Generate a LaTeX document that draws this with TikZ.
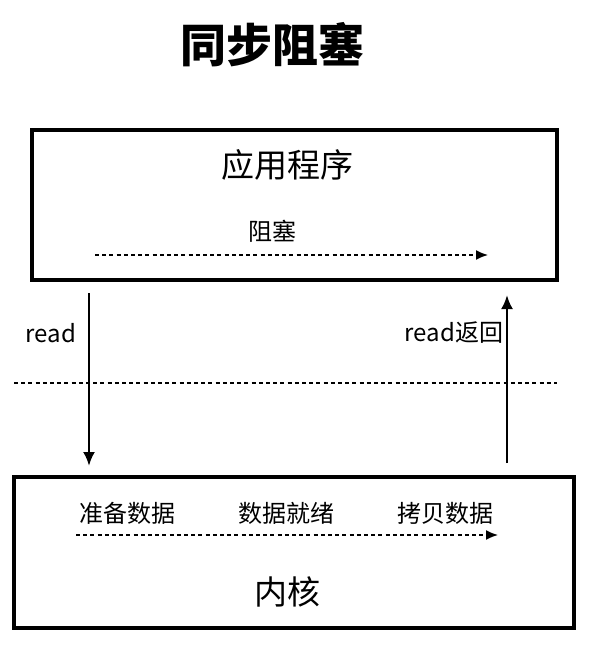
\documentclass[tikz,border=0pt]{standalone}
\usepackage{fontspec}
\setmainfont{Noto Sans CJK SC}
\usetikzlibrary{positioning,arrows.meta}

\begin{document}
\begin{tikzpicture}[x=1pt,y=-1pt]
%styles des boites, flèches et textes
\tikzset{boite/.style={draw,line width=3.2pt,inner sep=0pt},
         fleche/.style={line width=2.6pt,-{Latex[length=14pt,width=12pt]}},
         pointille/.style={line width=1.6pt,dash pattern=on 4pt off 3.2pt,-{Latex[length=12pt,width=10pt]}},
         grand/.style={font=\fontsize{33}{35}\selectfont},
         petit/.style={font=\fontsize{24}{26}\selectfont}}
\useasboundingbox (0,0) rectangle (590,658);

%titre
\node[font=\fontsize{46}{48}\selectfont\bfseries] (titre) at (272,45) {同步阻塞};

%boite de l'application
\draw[boite] (32,130) rectangle (557,280);
\node[grand] (appli) at (287,165) {应用程序};
\node[petit] (bloque) at (272,231) {阻塞};
\coordinate (b1) at (95,255); \coordinate (b2) at (488,255);
\draw[pointille] (b1) -- (b2);

%boite du noyau
\draw[boite] (14,477) rectangle (574,628);
\node[petit] (prep) at (127,513) {准备数据};
\node[petit] (pret) at (286,513) {数据就绪};
\node[petit] (copie) at (445,513) {拷贝数据};
\node[grand] (noyau) at (287,592) {内核};
\coordinate (k1) at (76,535); \coordinate (k2) at (498,535);
\draw[pointille] (k1) -- (k2);

%séparation
\coordinate (s1) at (14,383); \coordinate (s2) at (557,383);
\draw[line width=1.5pt,dash pattern=on 4pt off 3.2pt] (s1) -- (s2);

%appel read et retour
\coordinate (r1) at (89,293); \coordinate (r2) at (89,466);
\draw[fleche] (r1) -- (r2);
\node[petit] (lire) at (51,333) {read};
\coordinate (q1) at (507,463); \coordinate (q2) at (507,295);
\draw[fleche] (q1) -- (q2);
\node[petit] (retour) at (454,333) {read返回};
\end{tikzpicture}
\end{document}
